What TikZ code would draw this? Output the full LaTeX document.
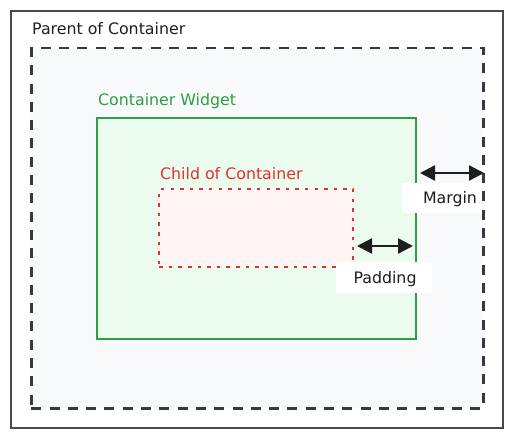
\documentclass[tikz,border=0pt]{standalone}
\usepackage{fontspec}
\setmainfont{DejaVu Sans}
\usetikzlibrary{arrows.meta}
\definecolor{outerc}{RGB}{74,74,74}
\definecolor{dashc}{RGB}{52,58,64}
\definecolor{dashfill}{RGB}{248,249,250}
\definecolor{greenc}{RGB}{47,158,68}
\definecolor{greenfill}{RGB}{235,251,238}
\definecolor{redc}{RGB}{224,49,49}
\definecolor{redfill}{RGB}{255,245,245}
\definecolor{inkc}{RGB}{30,30,30}
\tikzset{
  boxnode/.style={rectangle, inner sep=0pt, anchor=north west},
  txtfont/.style={font=\fontsize{15.8}{18}\selectfont},
  lbl/.style={txtfont, inner sep=0pt, anchor=base west},
  tagbox/.style={rectangle, fill=white, inner sep=0pt, anchor=north west},
  dimarrow/.style={draw=inkc, line width=2.4pt, {Triangle[length=15pt,width=15pt]}-{Triangle[length=15pt,width=15pt]}}
}
\begin{document}
\begin{tikzpicture}[x=1pt,y=-1pt]
\useasboundingbox (0,0) rectangle (511,436);
\node[boxnode, draw=outerc, line width=1.6pt, minimum width=492pt, minimum height=417pt] (outer) at (10,10) {};
\node[boxnode, draw=dashc, fill=dashfill, line width=2.5pt, dash pattern=on 10pt off 8.3pt, minimum width=452pt, minimum height=360pt] (parent) at (30,47) {};
\node[boxnode, draw=greenc, fill=greenfill, line width=1.8pt, minimum width=319pt, minimum height=221pt] (cont) at (96,117) {};
\node[boxnode, draw=redc, fill=redfill, line width=2.4pt, dash pattern=on 3.5pt off 6.1pt, minimum width=194pt, minimum height=78pt] (child) at (158,188) {};
\node[lbl, text=inkc] (tparent) at (32,35) {Parent of Container};
\node[lbl, text=greenc] (tcont) at (98,105) {Container Widget};
\node[lbl, text=redc] (tchild) at (160,179) {Child of Container};
\node[tagbox, minimum width=80pt, minimum height=30pt] (mbox) at (402,183) {};
\node[txtfont, text=inkc, inner sep=0pt, anchor=base] (tmargin) at (450,203) {Margin};
\node[tagbox, minimum width=96pt, minimum height=31pt] (pbox) at (336,262) {};
\node[txtfont, text=inkc, inner sep=0pt, anchor=base] (tpadding) at (385,283) {Padding};
\coordinate (mL) at (420,173);
\coordinate (mR) at (484,173);
\coordinate (pL) at (357,246);
\coordinate (pR) at (413,246);
\draw[dimarrow] (mL) -- (mR);
\draw[dimarrow] (pL) -- (pR);
\end{tikzpicture}
\end{document}
